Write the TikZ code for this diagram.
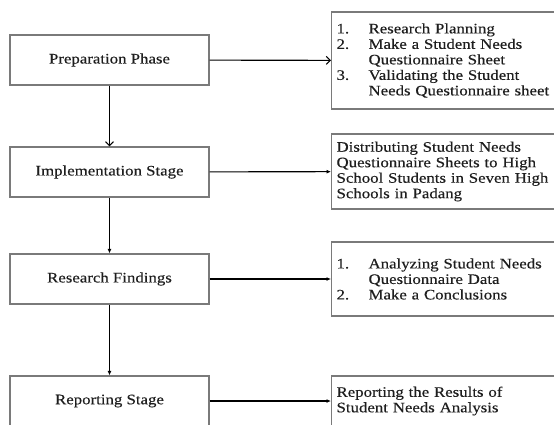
\documentclass[tikz,border=0pt]{standalone}
\usepackage{fontspec}
\setmainfont{Liberation Serif}[FakeStretch=1.16, FakeBold=0.25]
\usetikzlibrary{arrows.meta}
\definecolor{boxgray}{HTML}{7A7A7A}
\definecolor{textcol}{HTML}{1E1E1E}
\begin{document}
\begin{tikzpicture}[x=1pt,y=-1pt,
  stage/.style={draw=boxgray, line width=1.1pt, minimum width=199pt, minimum height=50pt,
    inner sep=0pt, text=textcol, font=\fontsize{14.5}{15.5}\selectfont},
  info/.style={draw=boxgray, line width=1.1pt, anchor=west, align=left, text width=219pt,
    inner xsep=5pt, inner ysep=0pt, text=textcol, font=\fontsize{14.5}{15.5}\selectfont},
  arr/.style={-{Latex[length=4.5pt,width=4pt]}, line width=1.1pt},
  openarr/.style={-{Straight Barb[length=4pt,width=8pt]}, line width=1.1pt}]
\useasboundingbox (0,0) rectangle (554,424);
\clip (0,0) rectangle (554,424);
\fill[white] (0,0) rectangle (554,424);
\newcommand{\numit}[1]{\makebox[32pt][l]{#1}}
\newcommand{\indit}{\hspace*{32pt}}
% left column
\node[stage] (p) at (109.5,60) {Preparation Phase};
\node[stage] (i) at (109.5,172) {Implementation Stage};
\node[stage] (f) at (109.5,279) {Research Findings};
\node[stage] (r) at (109.5,401) {Reporting Stage};
% right column
\node[info, minimum height=97pt] (p2) at (331,60.5) {\numit{1.}Research Planning\\
  \numit{2.}Make a Student Needs\\ \indit Questionnaire Sheet\\
  \numit{3.}Validating the Student\\ \indit Needs Questionnaire sheet};
\node[info, minimum height=75pt] (i2) at (331,171.5) {Distributing Student Needs\\
  Questionnaire Sheets to High\\ School Students in Seven High\\ Schools in Padang};
\node[info, minimum height=74pt] (f2) at (331,279) {\numit{1.}Analyzing Student Needs\\
  \indit Questionnaire Data\\ \numit{2.}Make a Conclusions};
\node[info, minimum height=50pt] (r2) at (331,401) {Reporting the Results of\\ Student Needs Analysis};
% connectors
\draw[openarr] (p) -- (i);
\draw[arr] (i) -- (f);
\draw[arr] (f) -- (r);
\draw[openarr] (p) -- (p2);
\draw[arr] (i) -- (i2);
\draw[arr] (f) -- (f2);
\draw[arr] (r) -- (r2);
\end{tikzpicture}
\end{document}
